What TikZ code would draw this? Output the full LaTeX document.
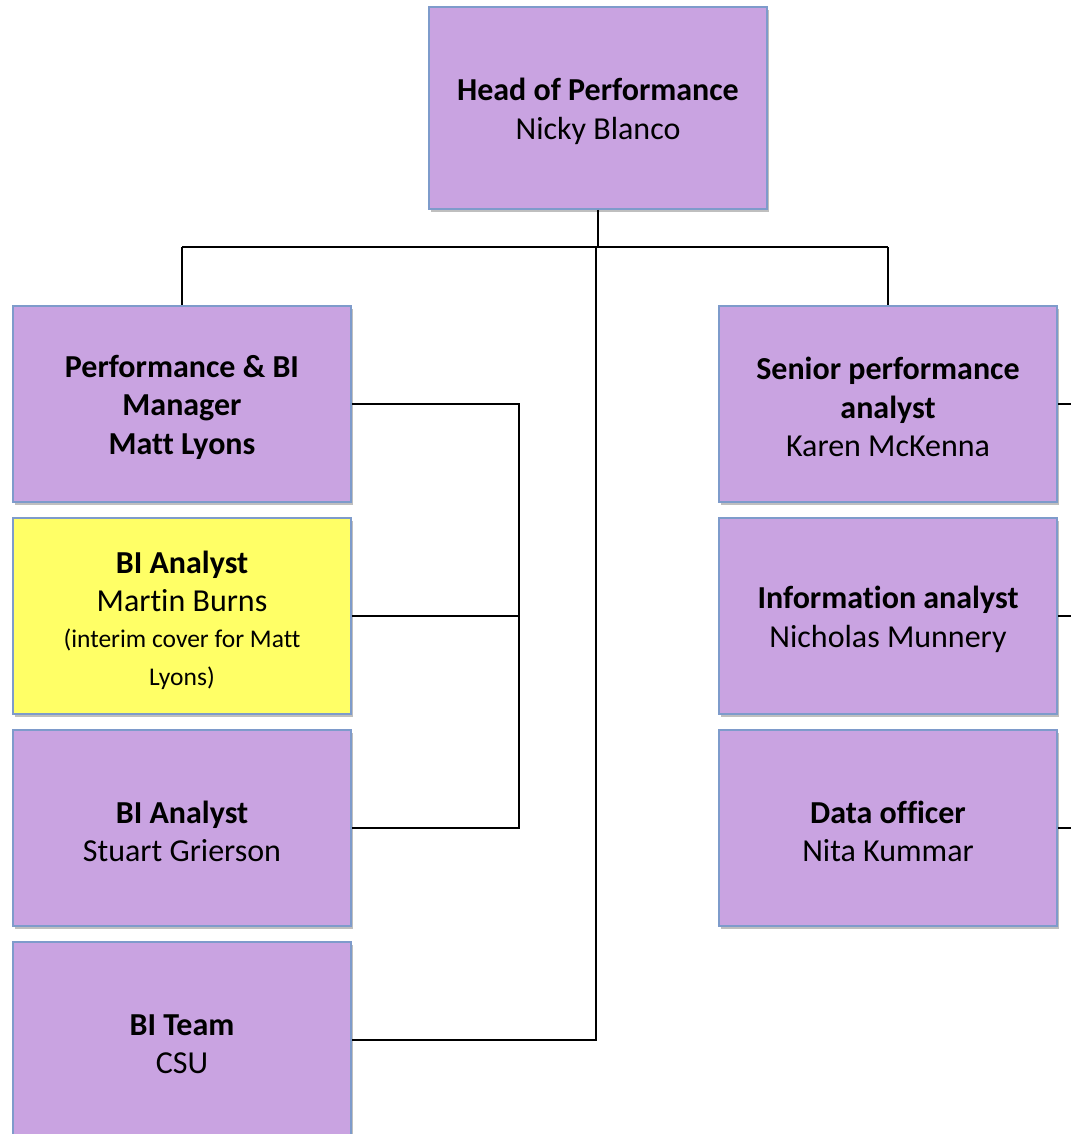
\documentclass[tikz,border=0pt]{standalone}
\usepackage{fontspec}
\setmainfont{Carlito}[Ligatures=NoCommon]
\usetikzlibrary{shadows}
\definecolor{boxfill}{HTML}{C9A3E1}
\definecolor{boxline}{HTML}{7E9BCB}
\definecolor{yel}{HTML}{FFFF66}
\newcommand{\smalltxt}{\fontsize{25.5}{36}\selectfont}
\newcommand{\tpad}{\rule{0pt}{29pt}}
\begin{document}
\begin{tikzpicture}[x=1pt,y=-1pt,
  card/.style={draw=boxline, line width=1.5pt, fill=boxfill, minimum width=338pt, minimum height=196pt,
    align=center, font=\fontsize{32}{38.5}\selectfont, inner sep=0pt, text=black,
    drop shadow={shadow xshift=2pt, shadow yshift=-3pt, opacity=0.25, fill=black}},
  wire/.style={draw=black, line width=2pt}]
\useasboundingbox (0,0) rectangle (1071,1134);
% boxes
\node[card, minimum height=202pt] (head) at (598,108) {\tpad\textbf{Head of Performance}\\Nicky Blanco};
\node[card] (mgr) at (182,404) {\tpad\textbf{Performance \& BI}\\\textbf{Manager}\\\textbf{Matt Lyons}};
\node[card, fill=yel] (martin) at (182,616) {\rule{0pt}{31pt}\textbf{BI Analyst}\\Martin Burns\\[-3pt]{\smalltxt (interim cover for Matt}\\{\smalltxt Lyons)}};
\node[card] (stuart) at (182,828) {\tpad\textbf{BI Analyst}\\Stuart Grierson};
\node[card] (team) at (182,1040) {\tpad\textbf{BI Team}\\CSU};
\node[card] (senior) at (888,404) {\tpad\textbf{Senior performance}\\\textbf{analyst}\\Karen McKenna};
\node[card] (info) at (888,616) {\tpad\textbf{Information analyst}\\Nicholas Munnery};
\node[card] (data) at (888,828) {\tpad\textbf{Data officer}\\Nita Kummar};
% junction coordinates
\coordinate (hj) at (598,247);
\coordinate (lj) at (182,247);
\coordinate (rj) at (888,247);
\coordinate (tj) at (596,247);
\coordinate (tb) at (596,1040);
\coordinate (b1) at (519,404);
\coordinate (b2) at (519,616);
\coordinate (b3) at (519,828);
\coordinate (r1) at (1071,404);
\coordinate (r2) at (1071,616);
\coordinate (r3) at (1071,828);
% connectors
\draw[wire] (head.south) -- (hj);
\draw[wire] (lj) -- (rj);
\draw[wire] (lj) -- (mgr.north);
\draw[wire] (rj) -- (senior.north);
\draw[wire] (tj) -- (tb) -- (team.east);
\draw[wire] (mgr.east) -- (b1) -- (b3) -- (stuart.east);
\draw[wire] (martin.east) -- (b2);
\draw[wire] (senior.east) -- (r1);
\draw[wire] (info.east) -- (r2);
\draw[wire] (data.east) -- (r3);
\end{tikzpicture}
\end{document}
